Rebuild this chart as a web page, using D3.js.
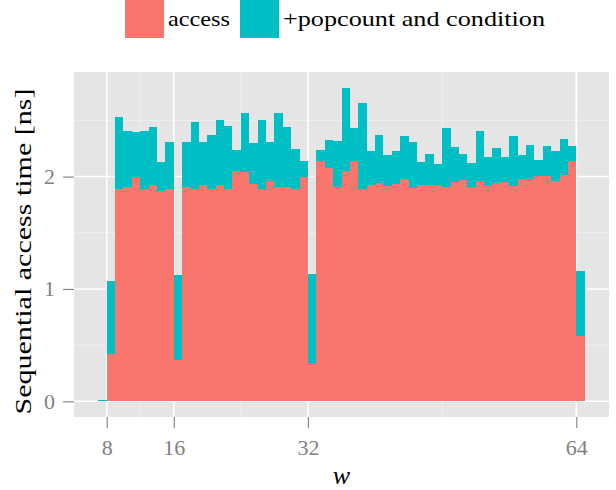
<!DOCTYPE html>
<html>
<head>
<meta charset="utf-8">
<script src="https://cdn.jsdelivr.net/npm/d3@7"></script>
<style>
  body { margin: 0; background: #fff; }
  svg text { font-family: "Liberation Serif", "DejaVu Serif", serif; }
</style>
</head>
<body>
<div id="chart"></div>
<script>
// word size w, one bar per w
const words = d3.range(7, 65);

// sequential access time [ns], access only
const accessTime = [
  0.000, 0.418, 1.893, 1.905, 1.994, 1.893, 1.923, 1.876, 1.887, 0.364,
  1.905, 1.887, 1.929, 1.887, 1.929, 1.887, 2.053, 2.044, 1.938, 1.887,
  1.959, 1.905, 1.905, 1.887, 1.994, 0.329, 2.142, 2.080, 1.911, 2.053,
  2.142, 1.893, 1.929, 1.947, 1.920, 1.938, 1.982, 1.902, 1.929, 1.929,
  1.929, 1.911, 1.956, 1.973, 1.911, 1.964, 1.920, 1.947, 1.956, 1.920,
  1.982, 1.976, 2.009, 2.009, 1.964, 2.018, 2.142, 0.578
];

// sequential access time [ns], access + popcount and condition
const fullTime = [
  0.012, 1.067, 2.533, 2.409, 2.394, 2.409, 2.444, 2.127, 2.305, 1.120,
  2.305, 2.483, 2.305, 2.373, 2.507, 2.453, 2.240, 2.569, 2.296, 2.507,
  2.305, 2.569, 2.444, 2.249, 2.142, 1.129, 2.240, 2.329, 2.320, 2.791,
  2.436, 2.658, 2.231, 2.373, 2.196, 2.231, 2.364, 2.305, 2.133, 2.204,
  2.116, 2.436, 2.267, 2.204, 2.124, 2.409, 2.178, 2.258, 2.178, 2.364,
  2.196, 2.284, 2.151, 2.276, 2.231, 2.338, 2.276, 1.156
];

const xTicks = [8, 16, 32, 64];
const yTicks = [0, 1, 2];
const seriesNames = ["access", "+popcount and condition"];
const seriesColors = ["#F8766D", "#00BFC4"];

const svgWidth = 616;
const svgHeight = 490;
const panel = { left: 74, right: 609, top: 72, bottom: 417 };

const data = words.map((w, i) => ({ w: w, access: accessTime[i], full: fullTime[i] }));

const svg = d3.select("#chart")
  .append("svg")
  .attr("width", svgWidth)
  .attr("height", svgHeight);

// ggplot style 5% expansion of the data range
const xMin = d3.min(words), xMax = d3.max(words) + 1;
const xPad = (xMax - xMin) * 0.05;
const x = d3.scaleLinear()
  .domain([xMin - xPad, xMax + xPad])
  .range([panel.left, panel.right]);

const yMax = d3.max(fullTime);
const y = d3.scaleLinear()
  .domain([-yMax * 0.05, yMax * 1.05])
  .range([panel.bottom, panel.top]);

// panel background
svg.append("rect")
  .attr("x", panel.left)
  .attr("y", panel.top)
  .attr("width", panel.right - panel.left)
  .attr("height", panel.bottom - panel.top)
  .attr("fill", "#E5E5E5");

// minor grid lines halfway between major ones
const xMinor = d3.pairs(xTicks).map(p => (p[0] + p[1]) / 2);
const yMinor = d3.pairs(yTicks).map(p => (p[0] + p[1]) / 2).concat([2.5]);

const grid = svg.append("g");
grid.selectAll(".xminor").data(xMinor).enter().append("line")
  .attr("x1", d => x(d)).attr("x2", d => x(d))
  .attr("y1", panel.top).attr("y2", panel.bottom)
  .attr("stroke", "#F2F2F2").attr("stroke-width", 0.8);
grid.selectAll(".yminor").data(yMinor).enter().append("line")
  .attr("x1", panel.left).attr("x2", panel.right)
  .attr("y1", d => y(d)).attr("y2", d => y(d))
  .attr("stroke", "#F2F2F2").attr("stroke-width", 0.8);
grid.selectAll(".xmajor").data(xTicks).enter().append("line")
  .attr("x1", d => x(d)).attr("x2", d => x(d))
  .attr("y1", panel.top).attr("y2", panel.bottom)
  .attr("stroke", "#FFFFFF").attr("stroke-width", 1.6);
grid.selectAll(".ymajor").data(yTicks).enter().append("line")
  .attr("x1", panel.left).attr("x2", panel.right)
  .attr("y1", d => y(d)).attr("y2", d => y(d))
  .attr("stroke", "#FFFFFF").attr("stroke-width", 1.6);

// stacked bars: access at the bottom, the extra time on top
const bars = svg.append("g").attr("shape-rendering", "crispEdges");
bars.selectAll(".access").data(data).enter().append("rect")
  .attr("x", d => x(d.w))
  .attr("width", d => x(d.w + 1) - x(d.w))
  .attr("y", d => y(d.access))
  .attr("height", d => y(0) - y(d.access))
  .attr("fill", seriesColors[0]);
bars.selectAll(".extra").data(data).enter().append("rect")
  .attr("x", d => x(d.w))
  .attr("width", d => x(d.w + 1) - x(d.w))
  .attr("y", d => y(d.full))
  .attr("height", d => Math.max(0.8, y(d.access) - y(d.full)))
  .attr("fill", seriesColors[1]);

// axes
const xAxis = svg.append("g")
  .attr("transform", `translate(0, ${panel.bottom})`)
  .call(d3.axisBottom(x).tickValues(xTicks).tickSize(11).tickPadding(11).tickFormat(d3.format("d")));
const yAxis = svg.append("g")
  .attr("transform", `translate(${panel.left}, 0)`)
  .call(d3.axisLeft(y).tickValues(yTicks).tickSize(11).tickPadding(8).tickFormat(d3.format("d")));

[xAxis, yAxis].forEach(a => {
  a.select(".domain").remove();
  a.selectAll(".tick line").attr("stroke", "#7F7F7F").attr("stroke-width", 1.1);
  a.selectAll(".tick text")
    .attr("fill", "#7F7F7F")
    .style("font-size", "22px");
});

// axis titles
svg.append("text")
  .attr("x", (panel.left + panel.right) / 2)
  .attr("y", 484)
  .attr("text-anchor", "middle")
  .style("font-size", "26px")
  .style("font-style", "italic")
  .text("w");

svg.append("text")
  .attr("transform", `translate(31, ${(panel.top + panel.bottom) / 2 + 7}) rotate(-90)`)
  .attr("text-anchor", "middle")
  .attr("textLength", 326)
  .attr("lengthAdjust", "spacingAndGlyphs")
  .style("font-size", "23px")
  .text("Sequential access time [ns]");

// legend on top
const legendX = [125, 240];
const legendTextLen = [62, 262];
const legend = svg.append("g");
seriesNames.forEach((name, i) => {
  legend.append("rect")
    .attr("x", legendX[i])
    .attr("y", 0)
    .attr("width", 39)
    .attr("height", 38)
    .attr("fill", seriesColors[i]);
  legend.append("text")
    .attr("x", legendX[i] + 43)
    .attr("y", 26)
    .attr("textLength", legendTextLen[i])
    .attr("lengthAdjust", "spacingAndGlyphs")
    .style("font-size", "21px")
    .text(name);
});
</script>
</body>
</html>
